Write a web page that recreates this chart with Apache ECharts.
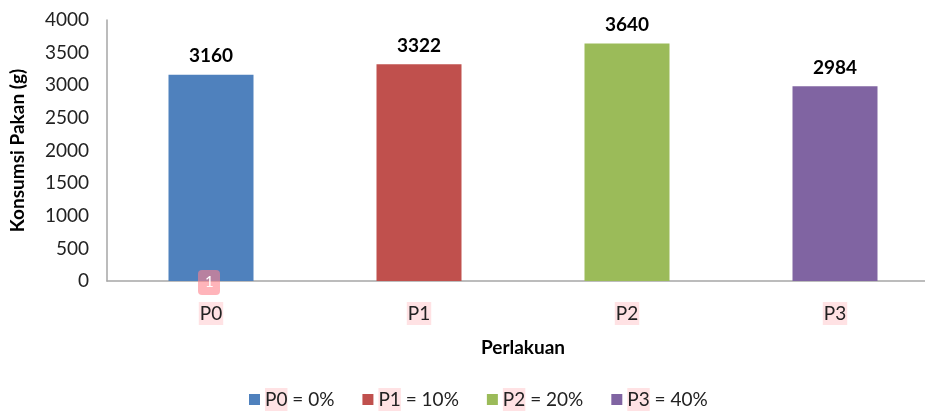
<!DOCTYPE html>
<html>
<head>
<meta charset="utf-8">
<script src="https://cdn.jsdelivr.net/npm/echarts@6/dist/echarts.min.js"></script>
<style>
  html, body { margin: 0; padding: 0; background: #fff; }
  #chart { width: 925px; height: 417px; }
</style>
</head>
<body>
<div id="chart"></div>
<script>
  // Konsumsi pakan per perlakuan
  const categories = ['P0', 'P1', 'P2', 'P3']
  const values = [3160, 3322, 3640, 2984]
  const levels = ['0%', '10%', '20%', '40%']
  const colors = ['#4f81bd', '#c0504d', '#9bbb59', '#8064a2']

  const font = 'Lato, "Open Sans", sans-serif'
  const highlight = 'rgba(255, 190, 195, 0.45)'

  const chart = echarts.init(document.getElementById('chart'))

  // one series per perlakuan so each gets its own legend entry
  const series = categories.map((c, i) => ({
    name: c,
    type: 'bar',
    stack: 'all',
    barWidth: 85,
    itemStyle: { color: colors[i] },
    label: {
      show: true,
      position: 'top',
      distance: 9,
      color: '#000',
      fontFamily: font,
      fontWeight: 'bold',
      fontSize: 19
    },
    data: values.map((v, j) => (j === i ? v : null))
  }))

  chart.setOption({
    animation: false,
    textStyle: { fontFamily: font },
    grid: { left: 107, top: 20, width: 832, height: 261, outerBoundsMode: 'none', containLabel: false },
    legend: {
      bottom: 1,
      left: 244,
      itemWidth: 11,
      itemHeight: 11,
      itemGap: 28,
      icon: 'rect',
      data: categories,
      formatter: name => '{h|' + name + '}{t| = ' + levels[categories.indexOf(name)] + '}',
      textStyle: {
        rich: {
          h: { fontSize: 19, color: '#222', fontFamily: font, backgroundColor: highlight, padding: [2, 0, 2, 0] },
          t: { fontSize: 19, color: '#222', fontFamily: font }
        }
      }
    },
    xAxis: {
      type: 'category',
      data: categories,
      name: 'Perlakuan',
      nameLocation: 'middle',
      nameGap: 57,
      nameTextStyle: { fontFamily: font, fontWeight: 'bold', fontSize: 19, color: '#000' },
      axisLine: { lineStyle: { color: '#a6a6a6', width: 1.5 } },
      axisTick: { show: false },
      axisLabel: {
        margin: 21,
        fontSize: 19,
        color: '#222',
        fontFamily: font,
        backgroundColor: highlight,
        padding: [2, 1, 2, 1]
      }
    },
    yAxis: {
      type: 'value',
      min: 0,
      max: 4000,
      interval: 500,
      name: 'Konsumsi Pakan (g)',
      nameLocation: 'middle',
      nameGap: 80,
      nameTextStyle: { fontFamily: font, fontWeight: 'bold', fontSize: 19, color: '#000' },
      axisLine: { show: true, lineStyle: { color: '#a6a6a6', width: 1.5 } },
      axisTick: { show: false },
      splitLine: { show: false },
      axisLabel: { margin: 18, fontSize: 19, color: '#222', fontFamily: font, formatter: v => String(v) }
    },
    // comment marker from the source document
    graphic: [
      {
        type: 'rect', left: 198, top: 270, z: 100,
        shape: { width: 22, height: 25, r: 4 },
        style: { fill: 'rgba(255, 130, 140, 0.6)' }
      },
      {
        type: 'text', left: 205, top: 275, z: 101,
        style: { text: '1', fill: '#fff', fontSize: 15, fontFamily: font }
      }
    ],
    series: series
  })
</script>
</body>
</html>
